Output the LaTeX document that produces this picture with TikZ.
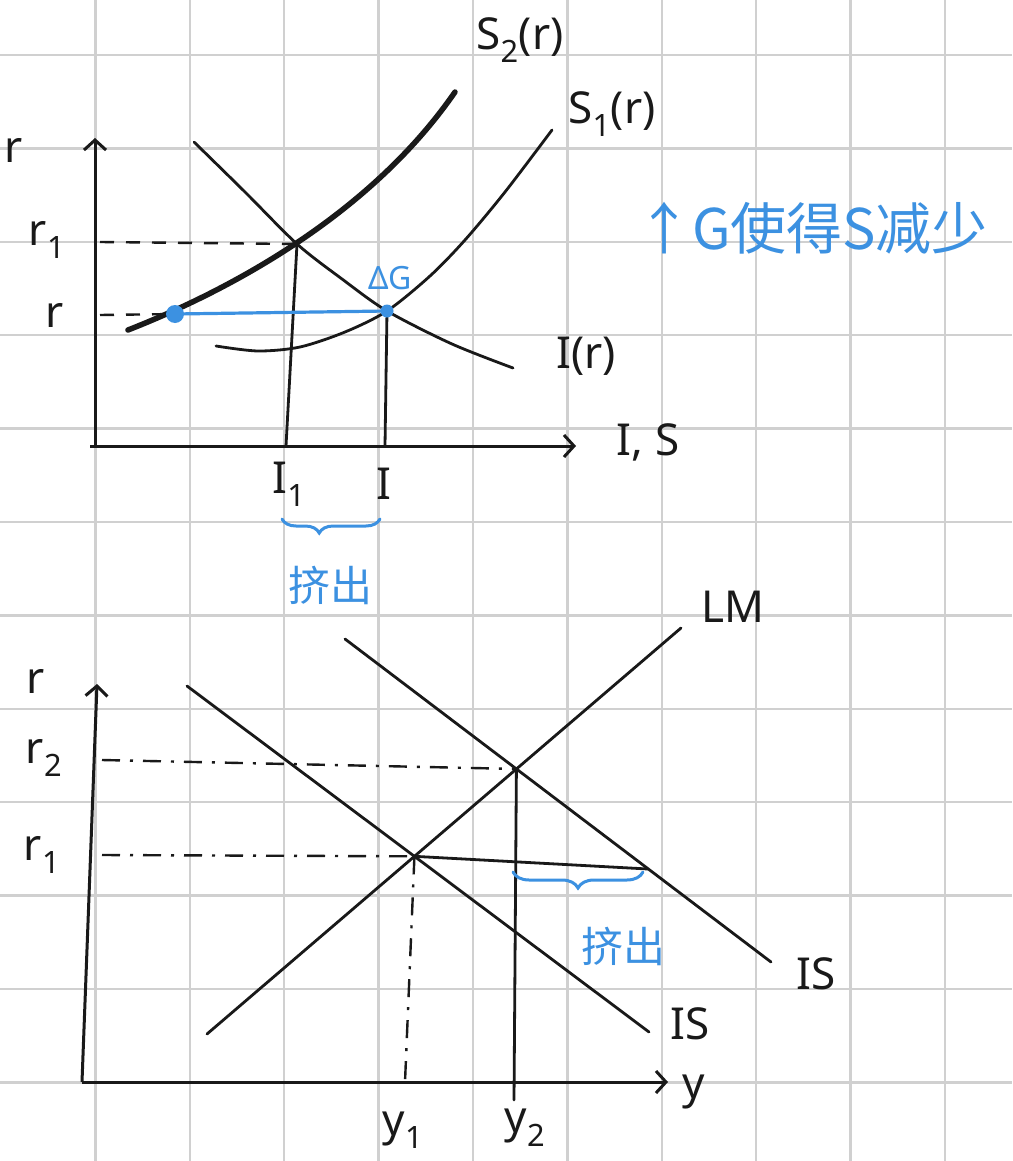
\documentclass[tikz,border=0pt]{standalone}
\usepackage{fontspec}
\newfontfamily\cjk{Noto Sans CJK SC}
\newfontfamily\lab{Noto Sans}
\usetikzlibrary{arrows.meta,decorations.pathreplacing}
\definecolor{pen}{RGB}{25,25,25}
\definecolor{ink}{RGB}{60,145,225}
\definecolor{gridc}{RGB}{208,208,208}
\begin{document}
\begin{tikzpicture}[x=1pt,y=-1pt,
  gridline/.style={gridc,line width=2.5pt},
  curve/.style={pen,line width=2.8pt,line cap=round},
  heavy/.style={pen,line width=5.5pt,line cap=round},
  axis/.style={pen,line width=3pt,-{Straight Barb[length=10pt,width=22pt,line width=3pt]}},
  guide/.style={pen,line width=2.4pt,dash pattern=on 14pt off 12pt},
  dashdot/.style={pen,line width=2.4pt,dash pattern=on 18pt off 10pt on 3pt off 10pt},
  bluepen/.style={ink,line width=3.2pt,line cap=round},
  lab/.style={pen,inner sep=0pt,font=\lab\fontsize{44}{48}\selectfont},
  note/.style={ink,inner sep=0pt,font=\cjk\fontsize{56}{60}\selectfont},
  bracebl/.style={ink,line width=3pt,line cap=round,decorate,decoration={brace,mirror,amplitude=#1}},
]
\useasboundingbox (0,0) rectangle (1012,1161);
\fill[white] (0,0) rectangle (1012,1161);
\foreach \i in {1,...,10} \draw[gridline] ({1+94.4*\i},0) -- ({1+94.4*\i},1161);
\foreach \j in {0,...,11} \draw[gridline] (0,{55+93.4*\j}) -- (1012,{55+93.4*\j});

% ---------- top graph ----------
\coordinate (O1) at (95,446);
\coordinate (Yt1) at (95,138);
\coordinate (Xs1) at (90,446);
\coordinate (Xt1) at (576,446);
\draw[axis] (O1) -- (Yt1);
\draw[axis] (Xs1) -- (Xt1);

\coordinate (A) at (297,244);
\coordinate (B) at (387,311);
\coordinate (P) at (175,314);
\coordinate (Ar) at (100,242);
\coordinate (Pr) at (100,315);
\coordinate (Ab) at (286,446);
\coordinate (Bb) at (385,446);
\coordinate (S2s) at (128,330);
\coordinate (S2e) at (455,92);

\draw[curve] plot[smooth] coordinates {(194,142) (245,192) (297,244) (342,279) (387,311) (452,344) (513,368)};
\draw[curve] plot[smooth] coordinates {(216,346) (258,351) (300,347) (345,332) (387,311) (430,276) (465,240) (505,192) (552,130)};
\draw[heavy] (S2s) .. controls (230,290) and (370,215) .. (S2e);

\draw[guide] (Ar) -- (A);
\draw[guide] (Pr) -- (P);
\draw[curve] (A) -- (Ab);
\draw[curve] (B) -- (Bb);
\draw[bluepen] (P) -- (B);
\fill[ink] (P) circle (9pt);
\fill[ink] (B) circle (6.5pt);

\node[lab] (rtop) at (14,150) {r};
\node[lab] (r1t) at (47,240) {r\textsubscript{1}};
\node[lab] (rt) at (55,315) {r};
\node[lab] (zs) at (648,442) {I, S};
\node[lab] (i1) at (289,484) {I\textsubscript{1}};
\node[lab] (i0) at (384,484) {I};
\node[lab] (s2) at (520,40) {S\textsubscript{2}(r)};
\node[lab] (s1) at (612,114) {S\textsubscript{1}(r)};
\node[lab] (ir) at (586,356) {I(r)};
\node[lab,ink,font=\lab\fontsize{32}{36}\selectfont] (dg) at (390,278) {ΔG};
\node[note] (txt) at (812,228) {↑G使得S减少};

\coordinate (b1l) at (282,519);
\coordinate (b1r) at (380,519);
\draw[bracebl=14pt,decoration={aspect=0.38}] (b1l) -- (b1r);
\node[note,font=\cjk\fontsize{42}{46}\selectfont] (jc1) at (330,585) {挤出};

% ---------- bottom graph ----------
\coordinate (O2) at (82,1082);
\coordinate (Yt2) at (97,684);
\coordinate (Xt2) at (668,1082);
\draw[axis] (O2) -- (Yt2);
\draw[axis] (O2) -- (Xt2);

\coordinate (is1a) at (187,686);
\coordinate (is1b) at (649,1032);
\coordinate (is2a) at (345,639);
\coordinate (is2b) at (771,962);
\coordinate (lma) at (207,1034);
\coordinate (lmb) at (681,628);
\draw[curve] (is1a) -- (is1b);
\draw[curve] (is2a) -- (is2b);
\draw[curve] (lma) -- (lmb);

\coordinate (E1) at (intersection of is1a--is1b and lma--lmb);
\coordinate (E2) at (intersection of is2a--is2b and lma--lmb);
\coordinate (F) at (648,869);
\coordinate (r2s) at (102,760);
\coordinate (r1s) at (102,855);
\coordinate (E1b) at (405,1082);
\coordinate (E2b) at (514,1100);

\draw[dashdot] (r2s) -- (E2);
\draw[dashdot] (r1s) -- (E1);
\draw[dashdot] (E1) -- (E1b);
\draw[curve] (E2) -- (E2b);
\draw[curve] (E1) -- (F);

\node[lab] (rb) at (36,681) {r};
\node[lab] (r2b) at (44,758) {r\textsubscript{2}};
\node[lab] (r1b) at (42,855) {r\textsubscript{1}};
\node[lab] (y1) at (403,1130) {y\textsubscript{1}};
\node[lab] (y2) at (525,1128) {y\textsubscript{2}};
\node[lab] (yax) at (694,1092) {y};
\node[lab] (lm) at (733,607) {LM};
\node[lab] (is1) at (690,1024) {IS};
\node[lab] (is2) at (816,974) {IS};

\coordinate (b2l) at (513,872);
\coordinate (b2r) at (643,872);
\draw[bracebl=16pt,decoration={aspect=0.5}] (b2l) -- (b2r);
\node[note,font=\cjk\fontsize{42}{46}\selectfont] (jc2) at (623,946) {挤出};
\end{tikzpicture}
\end{document}
